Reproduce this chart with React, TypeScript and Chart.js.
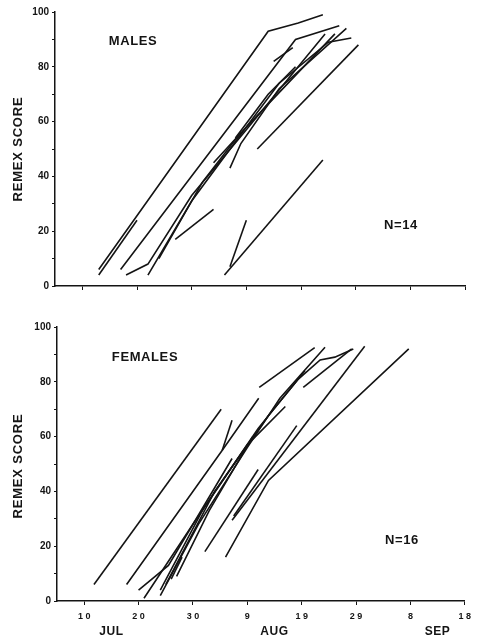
import React, { useEffect, useRef } from 'react';
import { Chart, registerables } from 'chart.js';

Chart.register(...registerables);

// ---- axis definitions (day number: Jul 10 = 10, Aug 9 = 40, Sep 8 = 70) ----
const xMinDay = 5;
const xMaxDay = 80;
const xTickDays = [10, 20, 30, 40, 50, 60, 70, 80];
const xTickLabels = ['10', '20', '30', '9', '19', '29', '8', '18'];
const monthDays = [15, 45, 75];
const monthNames = ['JUL', 'AUG', 'SEP'];
const yTickValues = [0, 10, 20, 30, 40, 50, 60, 70, 80, 90, 100];
const yLabeledTicks = [0, 20, 40, 60, 80, 100];

// ---- males: [day, remex score] ----
const male01 = [[13, 6], [44, 93], [49.5, 96], [54, 99]];
const male02 = [[13, 4], [20, 24]];
const male03 = [[17, 6], [49, 90], [57, 95]];
const male04 = [[45, 82], [48.5, 87]];
const male05 = [[18, 4], [22, 8], [30, 33], [40, 57], [54.4, 92]];
const male06 = [[22, 4], [30, 31], [40, 58], [56.2, 92]];
const male07 = [[27, 17], [34, 28]];
const male08 = [[42, 50], [60.5, 88]];
const male09 = [[36, 4], [54, 46]];
const male10 = [[37, 7], [40, 24]];
const male11 = [[37, 43], [39, 52], [46, 72], [58.3, 94]];
const male12 = [[34, 45], [40, 58], [46, 74], [55, 89], [59.2, 90.5]];
const male13 = [[38, 54], [44, 70], [49, 80]];
const male14 = [[24, 10], [32, 38], [39, 56]];
const maleBirds = [male01, male02, male03, male04, male05, male06, male07, male08, male09, male10, male11, male12, male13, male14];

// ---- females: [day, remex score] ----
const female01 = [[11.8, 6], [35.2, 70]];
const female02 = [[17.8, 6], [35.4, 55], [42.1, 74]];
const female03 = [[35.4, 55], [37.2, 66]];
const female04 = [[42.2, 78], [52.4, 92.5]];
const female05 = [[50.3, 78], [59.2, 92]];
const female06 = [[36, 16], [43.9, 44], [69.7, 92]];
const female07 = [[37.2, 29.5], [61.6, 93]];
const female08 = [[37.5, 31], [49.1, 64]];
const female09 = [[32.2, 18], [42, 48]];
const female10 = [[20, 4], [25.5, 13], [37.2, 52]];
const female11 = [[21, 1], [30, 28], [40, 57], [47, 71]];
const female12 = [[24, 4], [32, 34], [42, 63], [50.6, 84]];
const female13 = [[24, 2], [31, 28], [40, 56], [46, 74], [54.3, 92.6]];
const female14 = [[25, 6], [34, 40], [44, 68], [49.4, 81], [53.4, 88], [56.1, 89], [59.5, 92]];
const female15 = [[26, 8], [28, 16]];
const female16 = [[27, 9], [33, 33], [41, 60]];
const femaleBirds = [female01, female02, female03, female04, female05, female06, female07, female08, female09, female10, female11, female12, female13, female14, female15, female16];

const INK = '#141414';
const FONT = "'Liberation Sans', Arial, sans-serif";

type PanelCfg = {
  birds: number[][][];
  title: string;
  titlePos: [number, number];
  nText: string;
  nPos: [number, number];
  yTitleY: number;
  showXLabels: boolean;
  padTop: number;
  padRight: number;
  yWidth: number;
  xHeight: number;
};

function textPlugin(cfg: PanelCfg) {
  return {
    id: 'panelText',
    afterDraw(chart: any) {
      const ctx = chart.ctx as CanvasRenderingContext2D;
      ctx.save();
      ctx.fillStyle = INK;
      ctx.textAlign = 'center';
      ctx.textBaseline = 'middle';
      ctx.font = `bold 13px ${FONT}`;
      (ctx as any).letterSpacing = '0.6px';
      ctx.fillText(cfg.title, cfg.titlePos[0], cfg.titlePos[1]);
      ctx.fillText(cfg.nText, cfg.nPos[0], cfg.nPos[1]);
      ctx.save();
      ctx.translate(18, cfg.yTitleY);
      ctx.rotate(-Math.PI / 2);
      (ctx as any).letterSpacing = '0.8px';
      ctx.fillText('REMEX SCORE', 0, 0);
      ctx.restore();
      if (cfg.showXLabels) {
        ctx.font = `bold 12px ${FONT}`;
        const xs = chart.scales.x;
        monthDays.forEach((d, i) => {
          ctx.fillText(monthNames[i], xs.getPixelForValue(d), chart.chartArea.bottom + 31);
        });
      }
      ctx.restore();
    },
  };
}

function Panel({ cfg, width, height }: { cfg: PanelCfg; width: number; height: number }) {
  const ref = useRef<HTMLCanvasElement | null>(null);
  useEffect(() => {
    if (!ref.current) return;
    const chart = new Chart(ref.current, {
      type: 'scatter',
      data: {
        datasets: cfg.birds.map((b) => ({
          data: b.map(([x, y]) => ({ x, y })),
          showLine: true,
          borderColor: INK,
          borderWidth: 1.6,
          pointRadius: 0,
          pointHoverRadius: 0,
          tension: 0,
          fill: false,
        })),
      },
      options: {
        animation: false,
        responsive: false,
        devicePixelRatio: 1,
        events: [],
        layout: { padding: { top: cfg.padTop, right: cfg.padRight, left: 0, bottom: 0 } },
        plugins: { legend: { display: false }, tooltip: { enabled: false }, title: { display: false } },
        scales: {
          x: {
            type: 'linear',
            min: xMinDay,
            max: xMaxDay,
            afterBuildTicks: (scale: any) => {
              scale.ticks = xTickDays.map((v) => ({ value: v }));
            },
            afterFit: (scale: any) => {
              scale.height = cfg.xHeight;
            },
            ticks: {
              display: cfg.showXLabels,
              autoSkip: false,
              maxRotation: 0,
              padding: 6,
              color: INK,
              font: { family: FONT, size: 9, weight: 'bold' },
              callback: (v: any) => {
                const i = xTickDays.indexOf(Number(v));
                return i >= 0 ? xTickLabels[i].split('').join(' ') : '';
              },
            },
            grid: { display: true, drawOnChartArea: false, tickLength: 4, color: INK, lineWidth: 1 },
            border: { display: true, color: INK, width: 1.5 },
          },
          y: {
            type: 'linear',
            min: 0,
            max: 100,
            afterBuildTicks: (scale: any) => {
              scale.ticks = yTickValues.map((v) => ({ value: v }));
            },
            afterFit: (scale: any) => {
              scale.width = cfg.yWidth;
            },
            ticks: {
              autoSkip: false,
              padding: 3,
              color: INK,
              font: { family: FONT, size: 10, weight: 'bold' },
              callback: (v: any) => (yLabeledTicks.includes(Number(v)) ? String(v) : ''),
            },
            grid: { display: true, drawOnChartArea: false, tickLength: 3, color: INK, lineWidth: 1 },
            border: { display: true, color: INK, width: 1.5 },
          },
        },
      },
      plugins: [textPlugin(cfg)],
    } as any);
    return () => chart.destroy();
  }, [cfg]);
  return <canvas ref={ref} width={width} height={height} style={{ display: 'block', width, height }} />;
}

const topCfg: PanelCfg = {
  birds: maleBirds,
  title: 'MALES',
  titlePos: [133, 41],
  nText: 'N=14',
  nPos: [401, 225],
  yTitleY: 149,
  showXLabels: false,
  padTop: 12,
  padRight: 12,
  yWidth: 55,
  xHeight: 19,
};

const bottomCfg: PanelCfg = {
  birds: femaleBirds,
  title: 'FEMALES',
  titlePos: [145, 52],
  nText: 'N=16',
  nPos: [402, 235],
  yTitleY: 161,
  showXLabels: true,
  padTop: 22,
  padRight: 10,
  yWidth: 57,
  xHeight: 37,
};

export default function App() {
  return (
    <div style={{ position: 'absolute', left: 0, top: 0, width: 477, height: 638, background: '#fff', overflow: 'hidden' }}>
      <div style={{ position: 'absolute', left: 0, top: 0 }}>
        <Panel cfg={topCfg} width={477} height={305} />
      </div>
      <div style={{ position: 'absolute', left: 0, top: 305 }}>
        <Panel cfg={bottomCfg} width={477} height={333} />
      </div>
    </div>
  );
}
